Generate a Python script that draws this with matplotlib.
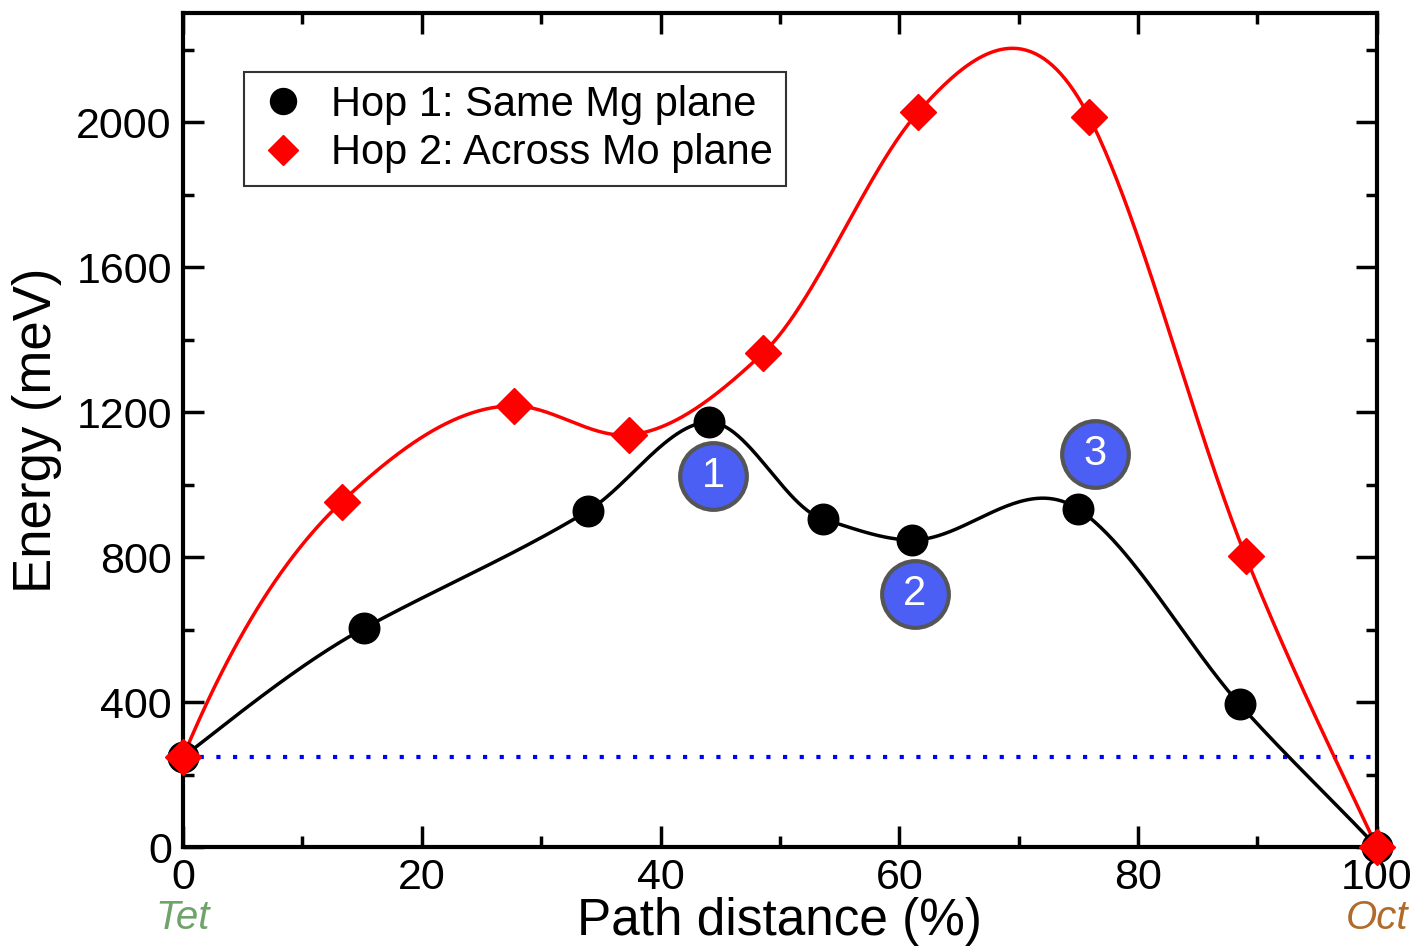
import numpy as np
import matplotlib.pyplot as plt
from matplotlib.ticker import MultipleLocator

plt.rcParams['font.family'] = ['Liberation Sans', 'DejaVu Sans']

# Hop 1 (mesmo plano de Mg): posicao, energia e derivada (forca) em cada imagem
x1 = [0, 15.2, 33.9, 44.1, 53.6, 61.1, 75.0, 88.5, 100]
e1 = [248, 604, 927, 1172, 905, 847, 932, 394, 0]
d1 = [25.7, 18, 20, 0, -10, 0, -22, -37, -35]
# Hop 2 (atravessa plano de Mo)
x2 = [0, 13.3, 27.7, 37.4, 48.6, 61.6, 75.9, 89.0, 100]
e2 = [248, 952, 1217, 1137, 1363, 2028, 2014, 803, 0]
d2 = [79, 31, 0, 3, 31, 37, -64, -82, -70]
ref_e = 248
# marcadores numerados
lab_x = [44.4, 61.3, 76.4]
lab_y = [1023, 698, 1084]
lab_t = ['1', '2', '3']


def hermite(x, y, d, n=80):
    # interpolacao cubica de Hermite (energia + derivada em cada ponto)
    xs, ys = [], []
    for i in range(len(x) - 1):
        h = x[i+1] - x[i]
        t = np.linspace(0, 1, n)
        h00 = 2*t**3 - 3*t**2 + 1
        h10 = t**3 - 2*t**2 + t
        h01 = -2*t**3 + 3*t**2
        h11 = t**3 - t**2
        xs.append(x[i] + t*h)
        ys.append(h00*y[i] + h10*h*d[i] + h01*y[i+1] + h11*h*d[i+1])
    return np.concatenate(xs), np.concatenate(ys)


fig = plt.figure(figsize=(14.18, 9.5), dpi=100)
ax = fig.add_axes([0.129, 0.1084, 0.842, 0.8776])

ax.axhline(ref_e, color='blue', ls=(0, (1, 3)), lw=3, zorder=1)
ax.plot(*hermite(x1, e1, d1), color='black', lw=2.5, zorder=2)
ax.plot(*hermite(x2, e2, d2), color='red', lw=2.5, zorder=2)
ax.plot(x1, e1, 'o', color='black', ms=22, ls='none', clip_on=False, zorder=3,
        label='Hop 1: Same Mg plane')
ax.plot(x2, e2, 'D', color='red', ms=18, ls='none', clip_on=False, zorder=4,
        label='Hop 2: Across Mo plane')

for xx, yy, t in zip(lab_x, lab_y, lab_t):
    ax.plot(xx, yy, 'o', ms=48, mfc='#4b5ff5', mec='#555555', mew=3, zorder=5)
    ax.text(xx, yy, t, color='white', fontsize=30, ha='center', va='center', zorder=6)

ax.set_xlim(0, 100)
ax.set_ylim(0, 2300)
ax.xaxis.set_major_locator(MultipleLocator(20))
ax.xaxis.set_minor_locator(MultipleLocator(10))
ax.yaxis.set_major_locator(MultipleLocator(400))
ax.yaxis.set_minor_locator(MultipleLocator(200))
ax.tick_params(which='both', direction='in', top=True, right=True, width=2.5, labelsize=31)
ax.tick_params(which='major', length=15, pad=8)
ax.tick_params(which='minor', length=8)
for s in ax.spines.values():
    s.set_linewidth(3)

ax.set_xlabel('Path distance (%)', fontsize=37, labelpad=-1)
ax.set_ylabel('Energy (meV)', fontsize=38, labelpad=10)

ax.text(0, -0.062, 'Tet', transform=ax.get_xaxis_transform(), ha='center', va='top',
        fontsize=29, style='italic', color='#6fa36a')
ax.text(100, -0.062, 'Oct', transform=ax.get_xaxis_transform(), ha='center', va='top',
        fontsize=29, style='italic', color='#b06a2a')

leg = ax.legend(loc='upper left', bbox_to_anchor=(0.051, 0.929), fontsize=30, frameon=True,
                fancybox=False, edgecolor='black', handletextpad=0.5, borderpad=0.3,
                labelspacing=0.2, markerscale=0.85, handlelength=1.3, borderaxespad=0)
leg.get_frame().set_linewidth(1.5)

plt.savefig('out.png', dpi=100)
